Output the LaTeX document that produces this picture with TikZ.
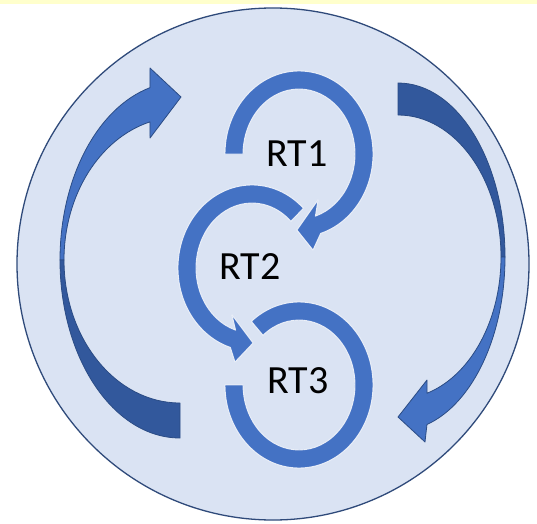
\documentclass[tikz,border=0pt]{standalone}
\usepackage{fontspec}
\setmainfont{Carlito}
\usetikzlibrary{calc}
\definecolor{bandyellow}{HTML}{FFFFCC}
\definecolor{discfill}{HTML}{DAE3F3}
\definecolor{discline}{HTML}{2F4A7A}
\definecolor{ringblue}{HTML}{4472C4}
\definecolor{darkblue}{HTML}{32589C}
\definecolor{arrowline}{HTML}{2B4C85}
\tikzset{
  ringshape/.style={fill=ringblue, draw=white, draw opacity=0.8, line width=0.9pt, line join=round},
  bigarrowlight/.style={fill=ringblue, draw=arrowline, line width=0.8pt, line join=round},
  bigarrowdark/.style={fill=darkblue, draw=arrowline, line width=0.8pt, line join=round},
  rtlabel/.style={inner sep=0pt, font=\fontsize{40}{48}\selectfont, text=black}
}
\begin{document}
\begin{tikzpicture}[x=1pt,y=1pt]
\useasboundingbox (0,0) rectangle (537,523);
\fill[white] (0,0) rectangle (537,523);
\fill[bandyellow] (0,519) rectangle (537,523);
% big disc
\coordinate (disc) at (273,259);
\draw[fill=discfill, draw=discline, line width=1.3pt] (disc) circle[radius=256];
% left big arrow
\coordinate (cl) at (180,263);
\path[bigarrowlight] (cl) ++(180:120 and 178) arc[start angle=180, end angle=104.5, x radius=120, y radius=178]
  -- (150,455) -- (181,426) -- (150,385)
  -- ($(cl)+(105:116 and 143)$) arc[start angle=105, end angle=180, x radius=116, y radius=143] -- cycle;
\path[bigarrowdark] (cl) ++(180:120 and 178) arc[start angle=180, end angle=270, x radius=120, y radius=178]
  -- ($(cl)+(270:116 and 143)$) arc[start angle=270, end angle=180, x radius=116, y radius=143] -- cycle;
% right big arrow
\coordinate (cr) at (398,266);
\path[bigarrowdark] (cr) ++(90:107 and 174) arc[start angle=90, end angle=0, x radius=107, y radius=174]
  -- ($(cr)+(0:103 and 142)$) arc[start angle=0, end angle=90, x radius=103, y radius=142] -- cycle;
\path[bigarrowlight] (cr) ++(0:107 and 174) arc[start angle=0, end angle=-74.3, x radius=107, y radius=174]
  -- (425,81) -- (398,106) -- (427,143)
  -- ($(cr)+(-73.6:103 and 142)$) arc[start angle=-73.6, end angle=0, x radius=103, y radius=142] -- cycle;
% RT1 ring
\coordinate (c1) at (299,369);
\path[ringshape] (c1) ++(180:74 and 83) arc[start angle=180, end angle=-73, x radius=74, y radius=83]
  -- (313,273) -- (297,293) -- (318,323)
  -- ($(c1)+(-73:56 and 65)$) arc[start angle=-73, end angle=180, x radius=56, y radius=65] -- cycle;
% RT2 ring
\coordinate (c2) at (252,255);
\path[ringshape] (c2) ++(46:74 and 83) arc[start angle=46, end angle=253, x radius=74, y radius=83]
  -- (235,161) -- (253,180) -- (232,208)
  -- ($(c2)+(253:56 and 65)$) arc[start angle=253, end angle=46, x radius=56, y radius=65] -- cycle;
% RT3 ring
\coordinate (c3) at (299,138);
\path[ringshape] (c3) ++(180:74 and 83) arc[start angle=180, end angle=490, x radius=74, y radius=83]
  -- ($(c3)+(130:56 and 65)$) arc[start angle=490, end angle=180, x radius=56, y radius=65] -- cycle;
% labels
\node[rtlabel] (rt1) at (297,369) {RT1};
\node[rtlabel] (rt2) at (250,256) {RT2};
\node[rtlabel] (rt3) at (298,142) {RT3};
\end{tikzpicture}
\end{document}
